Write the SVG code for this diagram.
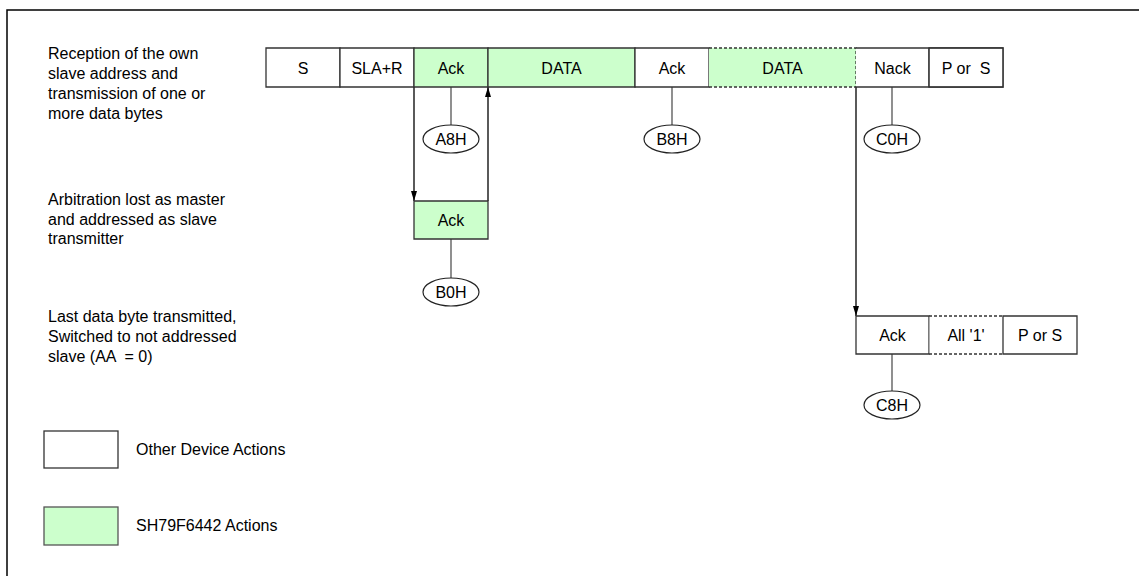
<svg xmlns="http://www.w3.org/2000/svg" width="1139" height="576" viewBox="0 0 1139 576">
<style>
text{font-family:"Liberation Sans",Arial,sans-serif;font-size:16px;fill:#000}
.c{text-anchor:middle}
.pre{white-space:pre}
.w{fill:#fff}
.g{fill:#ccffcc}
.e{fill:none;stroke:#333;stroke-width:1.3}
.d{fill:none;stroke:#333;stroke-width:1.3;stroke-dasharray:3 2}
.stub{stroke:#555;stroke-width:1.3;fill:none}
.arr{stroke:#000;stroke-width:1.3;fill:none}
.el{fill:#fff;stroke:#222;stroke-width:1.2}
</style>
<defs>
<marker id="ah" viewBox="0 0 10 6" refX="10" refY="3" markerWidth="10" markerHeight="6" markerUnits="userSpaceOnUse" orient="auto">
<path d="M0,0 L10,3 L0,6 Z" fill="#000"/>
</marker>
</defs>
<rect x="7" y="10" width="1200" height="600" fill="#fff" stroke="#000" stroke-width="1.5"/>

<g id="labels">
<text x="48" y="59">Reception of the own</text>
<text x="48" y="79">slave address and</text>
<text x="48" y="99">transmission of one or</text>
<text x="48" y="119">more data bytes</text>
<text x="48" y="205">Arbitration lost as master</text>
<text x="48" y="224.5">and addressed as slave</text>
<text x="48" y="244">transmitter</text>
<text x="48" y="322">Last data byte transmitted,</text>
<text x="48" y="342">Switched to not addressed</text>
<text class="pre" x="48" y="362">slave (AA  = 0)</text>
</g>

<g id="connectors">
<path class="stub" d="M451,87V125 M672,87V125 M892,87V125 M451,239V278 M892,354V391"/>
<path class="arr" d="M414,87V201" marker-end="url(#ah)"/>
<path class="arr" d="M488,201V87" marker-end="url(#ah)"/>
<path class="arr" d="M856,87V316" marker-end="url(#ah)"/>
</g>

<g id="n-s"><rect class="w" x="266" y="48" width="74" height="39"/><path class="e" d="M266,48H340V87H266Z"/><text class="c" x="303" y="73.5">S</text></g>
<g id="n-sla"><rect class="w" x="340" y="48" width="74" height="39"/><path class="e" d="M340,48H414V87H340Z"/><text class="c" x="377" y="73.5">SLA+R</text></g>
<g id="n-ack1"><rect class="g" x="414" y="48" width="74" height="39"/><path class="e" d="M414,48H488V87H414Z"/><text class="c" x="451" y="73.5">Ack</text></g>
<g id="n-data1"><rect class="g" x="488" y="48" width="147" height="39"/><path class="e" d="M488,48H635V87H488Z"/><text class="c" x="561.5" y="73.5">DATA</text></g>
<g id="n-ack2"><rect class="w" x="635" y="48" width="74" height="39"/><path class="e" d="M635,48H709V87H635Z"/><text class="c" x="672" y="73.5">Ack</text></g>
<g id="n-data2"><rect class="g" x="709" y="48" width="147" height="39"/><path class="d" d="M709,48H856V87H709"/><text class="c" x="782.5" y="73.5">DATA</text></g>
<g id="n-nack"><rect class="w" x="856" y="48" width="73" height="39"/><path class="e" d="M856,48H929V87H856 M929,48H1003V87H929"/><text class="c" x="892.5" y="73.5">Nack</text></g>
<g id="n-pors1"><rect class="w" x="929.6" y="48.6" width="72.8" height="37.8"/><path class="e" d="M929,48H1003V87H929Z"/><text class="c pre" x="966" y="73.5">P or  S</text></g>

<g id="n-ack3"><rect class="g" x="414" y="201" width="74" height="38"/><path class="e" d="M414,201H488V239H414Z"/><text class="c" x="451" y="226">Ack</text></g>

<g id="n-ack4"><rect class="w" x="856" y="316" width="73" height="38"/><path class="e" d="M856,316H929V354H856Z"/><text class="c" x="892.5" y="341">Ack</text></g>
<g id="n-all1"><rect class="w" x="929.6" y="316" width="73" height="38"/><path class="d" d="M929,316H1003 M929,354H1003"/><text class="c" x="966" y="341">All '1'</text></g>
<g id="n-pors2"><rect class="w" x="1003" y="316" width="74" height="38"/><path class="e" d="M1003,316H1077V354H1003Z"/><text class="c" x="1040" y="341">P or S</text></g>

<g id="s-a8h"><ellipse class="el" cx="451" cy="139" rx="28" ry="14"/><text class="c" x="451" y="144.8">A8H</text></g>
<g id="s-b8h"><ellipse class="el" cx="672" cy="139" rx="28" ry="14"/><text class="c" x="672" y="144.8">B8H</text></g>
<g id="s-c0h"><ellipse class="el" cx="892" cy="139" rx="28" ry="14"/><text class="c" x="892" y="144.8">C0H</text></g>
<g id="s-b0h"><ellipse class="el" cx="451" cy="292" rx="28" ry="14"/><text class="c" x="451" y="297.8">B0H</text></g>
<g id="s-c8h"><ellipse class="el" cx="892" cy="405" rx="28" ry="14"/><text class="c" x="892" y="410.8">C8H</text></g>

<g id="legend-other"><rect x="44" y="431" width="74" height="37" fill="#fff" stroke="#333" stroke-width="1.3"/><text x="136" y="455">Other Device Actions</text></g>
<g id="legend-sh"><rect x="44" y="507" width="74" height="38" fill="#ccffcc" stroke="#555" stroke-width="1.3"/><text x="136" y="531">SH79F6442 Actions</text></g>
</svg>
